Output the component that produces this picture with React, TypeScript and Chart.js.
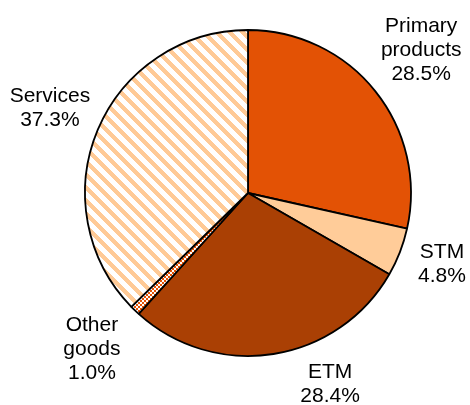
import React, { useEffect, useRef } from "react";
import { Chart, registerables } from "chart.js";

Chart.register(...registerables);

const categories = ["Primary products", "STM", "ETM", "Other goods", "Services"];
const shares = [28.5, 4.8, 28.4, 1.0, 37.3];
const labelLines = [["Primary", "products"], ["STM"], ["ETM"], ["Other", "goods"], ["Services"]];

// label placement: angle (deg, clockwise from top) and distance in pie radii
const labelAngles = [50.2, 109.7, 156.6, 225.3, 293.6];
const labelDist = [1.383, 1.264, 1.268, 1.347, 1.326];

function stripePattern(): CanvasPattern | string {
  const c = document.createElement("canvas");
  const n = 13;
  c.width = n;
  c.height = n;
  const ctx = c.getContext("2d");
  if (!ctx) return "#FFCC99";
  ctx.fillStyle = "#FFFFFF";
  ctx.fillRect(0, 0, n, n);
  ctx.fillStyle = "#FFCA96";
  for (let y = 0; y < n; y++) {
    for (let x = 0; x < n; x++) {
      if ((((x - y) % n) + n) % n < 6) ctx.fillRect(x, y, 1, 1);
    }
  }
  return ctx.createPattern(c, "repeat") || "#FFCC99";
}

function checkerPattern(): CanvasPattern | string {
  const c = document.createElement("canvas");
  c.width = 4;
  c.height = 4;
  const ctx = c.getContext("2d");
  if (!ctx) return "#E35205";
  ctx.fillStyle = "#FFFFFF";
  ctx.fillRect(0, 0, 4, 4);
  ctx.fillStyle = "#E35205";
  ctx.fillRect(0, 0, 2, 2);
  ctx.fillRect(2, 2, 2, 2);
  return ctx.createPattern(c, "repeat") || "#E35205";
}

const labelPlugin = {
  id: "pieLabels",
  afterDatasetsDraw(chart: any) {
    const meta = chart.getDatasetMeta(0);
    const arc = meta.data[0];
    if (!arc) return;
    const cx = arc.x;
    const cy = arc.y;
    const r = arc.outerRadius;
    const ctx = chart.ctx;
    ctx.save();
    ctx.font = '21px "Liberation Sans", Arial, sans-serif';
    ctx.fillStyle = "#000000";
    ctx.textAlign = "center";
    ctx.textBaseline = "alphabetic";
    const lh = 24;
    categories.forEach((_, i) => {
      const a = (labelAngles[i] * Math.PI) / 180;
      const px = cx + Math.sin(a) * r * labelDist[i];
      const py = cy - Math.cos(a) * r * labelDist[i];
      const lines = [...labelLines[i], shares[i].toFixed(1) + "%"];
      const first = py - ((lines.length - 1) * lh) / 2 + 7.5;
      lines.forEach((t, k) => ctx.fillText(t, px, first + k * lh));
    });
    ctx.restore();
  },
};

export default function App() {
  const ref = useRef<HTMLCanvasElement | null>(null);
  useEffect(() => {
    if (!ref.current) return;
    const colors = ["#E35205", "#FFCC99", "#AA4004", checkerPattern(), stripePattern()];
    const chart = new Chart(ref.current, {
      type: "pie",
      data: {
        labels: categories,
        datasets: [
          {
            data: shares,
            backgroundColor: colors as any,
            borderColor: "#000000",
            borderWidth: 1.8,
          },
        ],
      },
      options: {
        responsive: false,
        animation: false,
        devicePixelRatio: 1,
        radius: 163,
        layout: { padding: { left: 80, right: 54, top: 25, bottom: 44 } },
        plugins: {
          legend: { display: false },
          tooltip: { enabled: false },
        },
      } as any,
      plugins: [labelPlugin],
    });
    return () => chart.destroy();
  }, []);
  return (
    <div style={{ position: "absolute", left: 0, top: 0, width: 470, height: 405, background: "#fff" }}>
      <canvas ref={ref} width={470} height={405} />
    </div>
  );
}
